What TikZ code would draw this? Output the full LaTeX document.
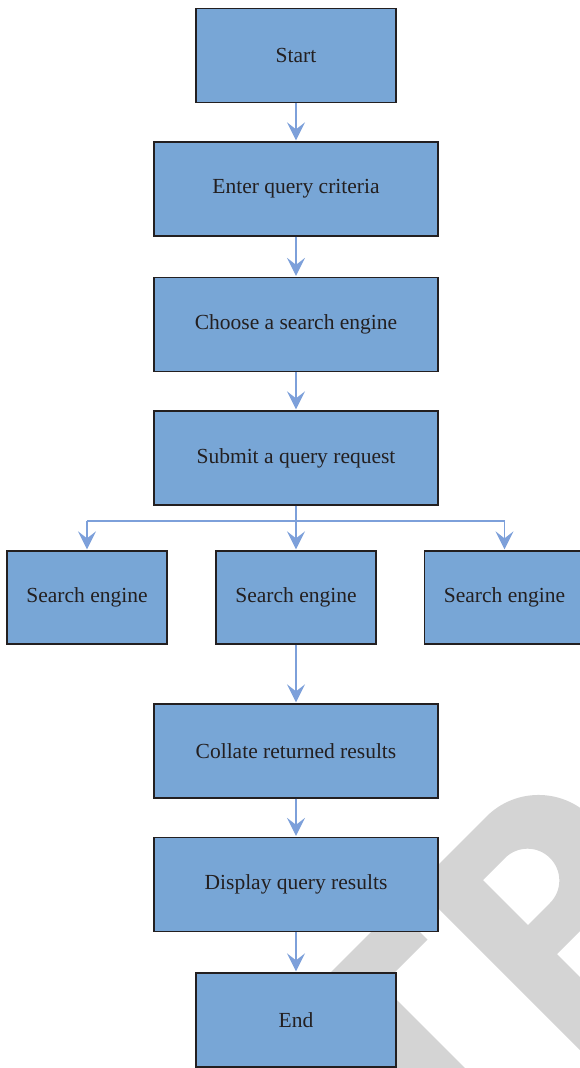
\documentclass[tikz,border=0pt]{standalone}
\usepackage{fontspec}
\setmainfont{Liberation Serif}
\usetikzlibrary{arrows.meta}
\definecolor{boxfill}{RGB}{120,166,214}
\definecolor{boxline}{RGB}{35,31,32}
\definecolor{arrowc}{RGB}{125,160,218}
\definecolor{wm}{RGB}{212,212,212}
\begin{document}
\begin{tikzpicture}[x=1pt,y=-1pt,
  box/.style={draw=boxline, line width=1.3pt, fill=boxfill, inner sep=0pt,
    font=\fontsize{21.5}{25}\selectfont, text=boxline},
  narrowbox/.style={box, minimum width=200pt, minimum height=94pt},
  widebox/.style={box, minimum width=284pt, minimum height=94pt},
  sebox/.style={box, minimum width=160pt, minimum height=93pt},
  conn/.style={draw=arrowc, line width=1.4pt},
  arr/.style={conn, shorten >=1pt, -{Stealth[length=18pt,width=18pt,inset=7pt]}}]
\useasboundingbox (0,0) rectangle (580,1068);
\fill[white] (0,0) rectangle (580,1068);
% watermark (part of rotated letters "TR")
\begin{scope}[x={(0.5pt,0.5pt)}, y={(0.5pt,-0.5pt)}, shift={(651.5pt,-651.5pt)}]
  \fill[wm, even odd rule]
    (-470,0) -- (-330,0) arc[start angle=-90, end angle=90, radius=104]
    -- (-397,208) -- (-397,700) -- (-470,700) -- cycle
    (-397,60) -- (-353,60) arc[start angle=-90, end angle=90, radius=45]
    -- (-397,150) -- cycle;
  \fill[wm] (-768,0) -- (-512,0) -- (-512,64) -- (-603,64) -- (-603,700)
    -- (-676,700) -- (-676,64) -- (-768,64) -- cycle;
\end{scope}
% nodes
\node[narrowbox] (start) at (296,55.5) {Start};
\node[widebox] (enter) at (296,189) {Enter query criteria};
\node[widebox] (choose) at (296,324.5) {Choose a search engine};
\node[widebox] (submit) at (296,458) {Submit a query request};
\node[sebox] (se1) at (87,597.5) {Search engine};
\node[sebox] (se2) at (296,597.5) {Search engine};
\node[sebox] (se3) at (504.5,597.5) {Search engine};
\node[widebox] (collate) at (296,751) {Collate returned results};
\node[widebox] (display) at (296,884.5) {Display query results};
\node[narrowbox] (end) at (296,1020) {End};
% connectors
\coordinate (fork) at (296,521);
\draw[arr] (start) -- (enter);
\draw[arr] (enter) -- (choose);
\draw[arr] (choose) -- (submit);
\draw[arr] (submit) -- (se2);
\draw[conn] (se1.north |- fork) -- (se3.north |- fork);
\draw[arr] (se1.north |- fork) -- (se1.north);
\draw[arr] (se3.north |- fork) -- (se3.north);
\draw[arr] (se2) -- (collate);
\draw[arr] (collate) -- (display);
\draw[arr] (display) -- (end);
\end{tikzpicture}
\end{document}
